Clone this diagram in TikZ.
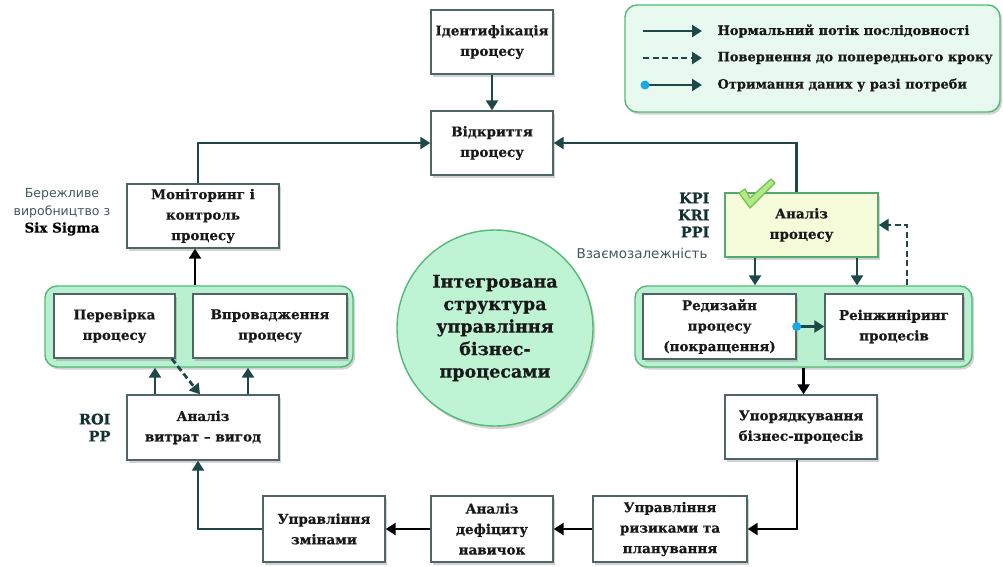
\documentclass[tikz,border=0pt]{standalone}
\usepackage{fontspec}
\setmainfont{DejaVu Serif}[BoldFeatures={FakeBold=0.6}]
\newfontfamily\sidefont{DejaVu Sans}
\usetikzlibrary{arrows.meta,shadows}

\definecolor{flowteal}{RGB}{30,72,72}
\definecolor{boxline}{RGB}{80,102,102}
\definecolor{grpfill}{RGB}{184,240,208}
\definecolor{grpline}{RGB}{82,186,116}
\definecolor{legfill}{RGB}{232,250,240}
\definecolor{circfill}{RGB}{190,243,212}
\definecolor{anfill}{RGB}{246,251,217}
\definecolor{dotblue}{RGB}{26,168,232}
\definecolor{sidegray}{RGB}{64,88,92}
\definecolor{tickgreen}{RGB}{110,195,70}
\definecolor{ticklight}{RGB}{180,232,135}

\begin{document}
\begin{tikzpicture}[x=1pt,y=-1pt,
  txt/.style={font=\bfseries\fontsize{13.5}{20.5}\selectfont, text=black!90, align=center},
  legtxt/.style={font=\bfseries\fontsize{13}{18}\selectfont, text=black!90, anchor=west},
  stepbox/.style={txt, draw=boxline, line width=1.4pt, fill=white, inner sep=2pt,
    drop shadow={shadow xshift=2pt, shadow yshift=-2.5pt, opacity=0.35}},
  group/.style={draw=grpline, line width=1.4pt, fill=grpfill, rounded corners=12pt,
    drop shadow={shadow xshift=2pt, shadow yshift=-2.5pt, opacity=0.35}},
  flow/.style={line width=2.8pt, draw=flowteal, -{Triangle[length=10pt,width=12pt]}},
  blackflow/.style={flow, draw=black},
  backflow/.style={flow, dash pattern=on 6pt off 3.5pt},
  sidetxt/.style={font=\sidefont\fontsize{12.5}{17.5}\selectfont, text=sidegray, align=center},
  metric/.style={font=\bfseries\fontsize{14.5}{17}\selectfont, text=flowteal!70!black, align=right}
]
\useasboundingbox (0,0) rectangle (1003,566);

% legend
\node[draw=grpline, line width=1.4pt, fill=legfill, rounded corners=12pt,
  minimum width=375pt, minimum height=107pt,
  drop shadow={shadow xshift=2pt, shadow yshift=-2.5pt, opacity=0.35}] (legend) at (812.5,58.5) {};
\coordinate (l1a) at (643,31); \coordinate (l1b) at (702,31);
\coordinate (l2a) at (643,58); \coordinate (l2b) at (702,58);
\coordinate (l3a) at (645,85); \coordinate (l3b) at (702,85);
\draw[flow] (l1a) -- (l1b);
\draw[backflow] (l2a) -- (l2b);
\draw[flow] (l3a) -- (l3b);
\fill[dotblue] (l3a) circle (4.5pt);
\node[legtxt] (t1) at (714,31) {Нормальний потік послідовності};
\node[legtxt] (t2) at (714,58) {Повернення до попереднього кроку};
\node[legtxt] (t3) at (714,85) {Отримання даних у разі потреби};

% group frames
\node[group, minimum width=308pt, minimum height=81pt] (leftgrp) at (199,326.5) {};
\node[group, minimum width=337pt, minimum height=81pt] (rightgrp) at (803.5,326.5) {};

% central circle
\node[circle, draw=grpline, line width=1.4pt, fill=circfill, minimum size=196pt,
  font=\bfseries\fontsize{17.5}{22.5}\selectfont, align=center, text=black!90,
  drop shadow={shadow xshift=2pt, shadow yshift=-3pt, opacity=0.35}] (core) at (495,328)
  {Інтегрована\\структура\\управління\\бізнес-\\процесами};

% process steps
\node[stepbox, minimum width=122pt, minimum height=64pt] (ident) at (492,42) {Ідентифікація\\процесу};
\node[stepbox, minimum width=122pt, minimum height=64pt] (open) at (492,143) {Відкриття\\процесу};
\node[stepbox, minimum width=152pt, minimum height=64pt] (monit) at (203,216) {Моніторинг і\\контроль\\процесу};
\node[stepbox, minimum width=121pt, minimum height=64pt] (check) at (114.5,326) {Перевірка\\процесу};
\node[stepbox, minimum width=154pt, minimum height=64pt] (impl) at (270,326) {Впровадження\\процесу};
\node[stepbox, minimum width=152pt, minimum height=65pt] (cost) at (203,427.5) {Аналіз\\витрат – вигод};
\node[stepbox, fill=anfill, draw=grpline!80!boxline, minimum width=153pt, minimum height=64pt] (anal) at (801.5,225) {Аналіз\\процесу};
\node[stepbox, minimum width=153pt, minimum height=65pt] (redes) at (719.5,326.5) {Редизайн\\процесу\\(покращення)};
\node[stepbox, minimum width=138pt, minimum height=65pt] (reeng) at (894,326.5) {Реінжиніринг\\процесів};
\node[stepbox, minimum width=152pt, minimum height=64pt] (order) at (801,427) {Упорядкування\\бізнес-процесів};
\node[stepbox, minimum width=154pt, minimum height=66pt] (risk) at (670,529) {Управління\\ризиками та\\планування};
\node[stepbox, minimum width=122pt, minimum height=66pt] (skill) at (492,529) {Аналіз\\дефіциту\\навичок};
\node[stepbox, minimum width=122pt, minimum height=66pt] (change) at (324,529) {Управління\\змінами};

% side labels
\node[sidetxt] (lean) at (62,212) {Бережливе\\виробництво з\\\textcolor{black}{\rmfamily\bfseries\fontsize{13.5}{17.5}\selectfont Six Sigma}};
\node[metric, anchor=east] (roi) at (114,427.5) {ROI\\PP};
\node[metric, anchor=east] (kpi) at (713,215) {KPI\\KRI\\PPI};
\node[sidetxt, font=\sidefont\fontsize{13.5}{17}\selectfont, anchor=east] (dep) at (711,253) {Взаємозалежність};

% check mark on the analysis step
\filldraw[draw=tickgreen, fill=ticklight, line width=1.2pt, line join=round]
  (739,193) -- (745,189) -- (750,198) -- (771,179) -- (775,183) -- (750,208) -- cycle;

% connectors
\draw[flow] (ident) -- (open);
\draw[flow] ([xshift=-5pt]monit.north) |- (open.west);
\draw[flow] ([xshift=-5pt]anal.north) |- (open.east);
\draw[blackflow] ([xshift=-4pt]leftgrp.north) -- ([xshift=-4pt]leftgrp.north |- monit.south);
\draw[flow] ([xshift=-48pt]cost.north) -- ([xshift=-48pt]cost.north |- leftgrp.south);
\draw[flow] ([xshift=45pt]cost.north) -- ([xshift=45pt]cost.north |- leftgrp.south);
\draw[backflow] ([xshift=-4pt]check.south east) -- ([xshift=-3pt]cost.north);
\draw[flow] ([xshift=-46.5pt]anal.south) -- ([xshift=-46.5pt]anal.south |- rightgrp.north);
\draw[flow] ([xshift=55.5pt]anal.south) -- ([xshift=55.5pt]anal.south |- rightgrp.north);
\draw[backflow] ([xshift=103.5pt]rightgrp.north) |- (anal.east);
\draw[flow] (redes.east) -- (reeng.west);
\fill[dotblue] (redes.east) circle (4.5pt);
\draw[blackflow] (rightgrp.south) -- (rightgrp.south |- order.north);
\draw[blackflow] ([xshift=-4pt]order.south) |- (risk.east);
\draw[blackflow] (risk) -- (skill);
\draw[blackflow] (skill) -- (change);
\draw[flow] (change.west) -| ([xshift=-5pt]cost.south);
\end{tikzpicture}
\end{document}
